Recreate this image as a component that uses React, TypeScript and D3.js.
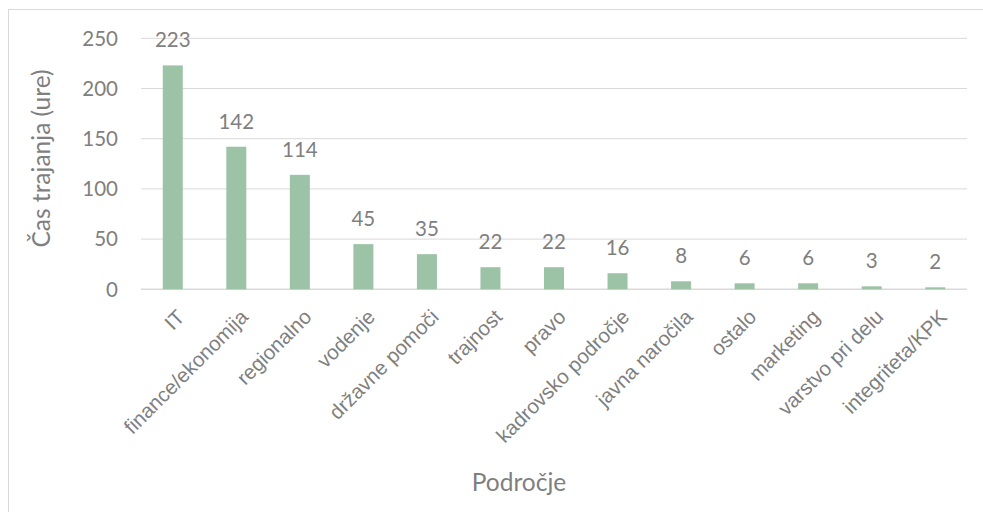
import React from "react";
import * as d3 from "d3";

const categories = ["IT", "finance/ekonomija", "regionalno", "vodenje", "državne pomoči", "trajnost", "pravo", "kadrovsko področje", "javna naročila", "ostalo", "marketing", "varstvo pri delu", "integriteta/KPK"];
const values = [223, 142, 114, 45, 35, 22, 22, 16, 8, 6, 6, 3, 2];
const yTicks = [0, 50, 100, 150, 200, 250];

const W = 983, H = 512;
const left = 141, right = 967, top = 38.3, bottom = 289.3;
const numFont = "Lato, 'Open Sans', sans-serif";
const labFont = "'Liberation Sans', Arial, sans-serif";
const textColor = "#7f7f7f";

export default function App() {
  const x = d3.scaleBand<string>().domain(categories).range([left, right]).paddingInner(0.685).paddingOuter(0.3425);
  const y = d3.scaleLinear().domain([0, 250]).range([bottom, top]);
  return (
    <svg width={W} height={H} style={{ position: "absolute", left: 0, top: 0, background: "#fff" }}>
      <rect x={8.5} y={9.5} width={990} height={520} fill="#fff" stroke="#d9d9d9" />
      {yTicks.map((t) => (
        <g key={t}>
          <line x1={left} x2={right} y1={y(t)} y2={y(t)} stroke="#d9d9d9" strokeWidth={t === 0 ? 1.5 : 1} />
          <text x={118} y={y(t)} dy="0.36em" textAnchor="end" fontFamily={numFont} fontSize={20.5} fill={textColor}>{t}</text>
        </g>
      ))}
      {categories.map((c, i) => {
        const bx = x(c)!;
        const bw = x.bandwidth();
        const cx = bx + bw / 2;
        return (
          <g key={c}>
            <rect x={bx} y={y(values[i])} width={bw} height={bottom - y(values[i])} fill="#9dc3a6" />
            <text x={cx} y={y(values[i]) - 18} textAnchor="middle" fontFamily={numFont} fontSize={20.5} fill={textColor}>{values[i]}</text>
            <text transform={`translate(${cx + 13},${bottom + 29}) rotate(-45)`} textAnchor="end" fontFamily={labFont} fontSize={20.5} fill={textColor}>{c}</text>
          </g>
        );
      })}
      <text transform={`translate(50,${158.5}) rotate(-90)`} textAnchor="middle" fontFamily={numFont} fontSize={24.5} fill={textColor}>Čas trajanja (ure)</text>
      <text x={519} y={491} textAnchor="middle" fontFamily={numFont} fontSize={24.5} fill={textColor}>Področje</text>
    </svg>
  );
}
